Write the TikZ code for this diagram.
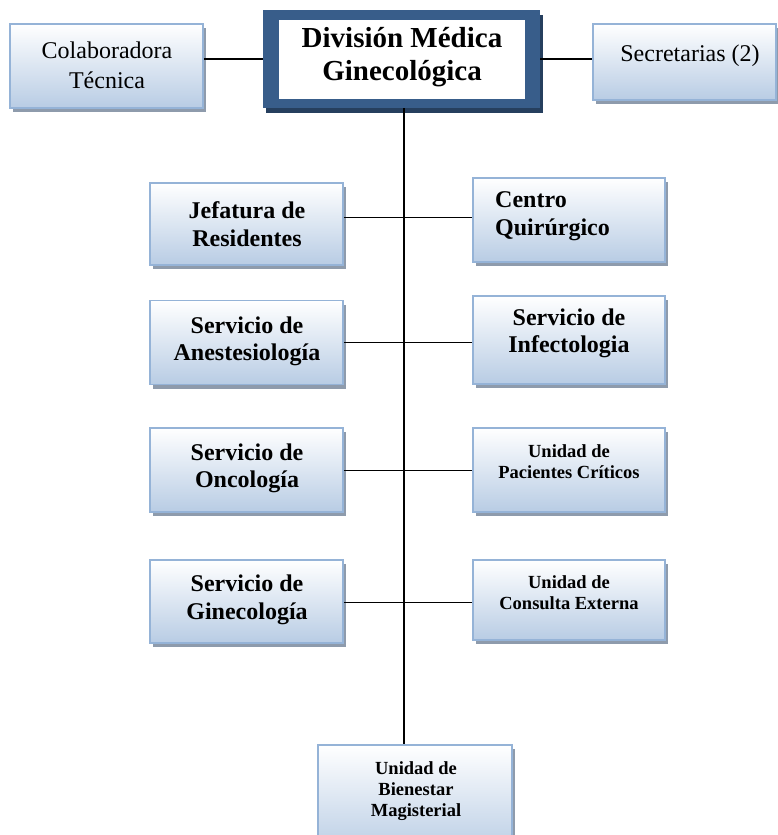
\documentclass[tikz,border=0pt]{standalone}
\usepackage{fontspec}
\setmainfont{Liberation Serif}
\usetikzlibrary{shadows}
\definecolor{boxborder}{HTML}{95B3D7}
\definecolor{boxbottom}{HTML}{B8CCE4}
\definecolor{boxshadow}{HTML}{8E9BAC}
\definecolor{mainblue}{HTML}{385D8A}
\definecolor{mainshadow}{HTML}{263F5E}
\begin{document}
\begin{tikzpicture}[x=1pt,y=-1pt,
  orgbox/.style={draw=boxborder, line width=1.5pt, top color=white, bottom color=boxbottom,
    inner sep=0pt, general shadow={fill=boxshadow, shadow xshift=3pt, shadow yshift=-4pt}},
  mainbox/.style={fill=mainblue, inner sep=0pt, minimum width=277pt, minimum height=98pt,
    general shadow={fill=mainshadow, shadow xshift=3pt, shadow yshift=-5pt}},
  bigtxt/.style={font=\bfseries\fontsize{24}{27.5}\selectfont, align=center, inner sep=0pt},
  smalltxt/.style={font=\bfseries\fontsize{18.5}{21}\selectfont, align=center, inner sep=0pt},
  regtxt/.style={font=\fontsize{24}{30}\selectfont, align=center, inner sep=0pt},
  maintxt/.style={font=\bfseries\fontsize{29}{33}\selectfont, align=center, inner sep=0pt},
  topline/.style={line width=2pt},
  spine/.style={line width=2.8pt},
  rowline/.style={line width=1pt}]
\useasboundingbox (0,0) rectangle (778,835);
\clip (0,0) rectangle (778,835);

% top level
\node[orgbox, minimum width=193pt, minimum height=84pt] (colab) at (106.5,66) {};
\node[regtxt] (colabt) at (107,65) {Colaboradora\\Técnica};
\node[mainbox] (main) at (401.5,59) {};
\fill[white] (279,20) rectangle (525,99);
\node[maintxt] (maint) at (402,57) {División Médica\\Ginecológica};
\node[orgbox, minimum width=183pt, minimum height=76pt] (secr) at (684.5,62) {};
\node[regtxt] (secrt) at (690,56) {Secretarias (2)};

% left column
\node[orgbox, minimum width=193pt, minimum height=82pt] (jef) at (246.5,224) {};
\node[bigtxt] (jeft) at (247,224) {Jefatura de\\Residentes};
\node[orgbox, minimum width=193pt, minimum height=84pt] (anes) at (246.5,342.5) {};
\node[bigtxt] (anest) at (247,341.5) {Servicio de\\Anestesiología};
\node[orgbox, minimum width=193pt, minimum height=84pt] (onco) at (246.5,470) {};
\node[bigtxt] (oncot) at (247,468.5) {Servicio de\\Oncología};
\node[orgbox, minimum width=193pt, minimum height=83pt] (gine) at (246.5,601.5) {};
\node[bigtxt] (ginet) at (247,600) {Servicio de\\Ginecología};

% right column
\node[orgbox, minimum width=192pt, minimum height=84pt] (cent) at (569,220) {};
\node[bigtxt, align=left, anchor=west] (centt) at (495,216) {Centro\\Quirúrgico};
\node[orgbox, minimum width=192pt, minimum height=88pt] (infe) at (569,340) {};
\node[bigtxt] (infet) at (569,333.5) {Servicio de\\Infectologia};
\node[orgbox, minimum width=192pt, minimum height=84pt] (paci) at (569,470) {};
\node[smalltxt] (pacit) at (569,462) {Unidad de\\Pacientes Críticos};
\node[orgbox, minimum width=192pt, minimum height=80pt] (cons) at (569,600) {};
\node[smalltxt] (const) at (569,593) {Unidad de\\Consulta Externa};

% bottom
\node[orgbox, minimum width=194pt, minimum height=110pt] (bien) at (415,800) {};
\node[smalltxt] (bient) at (416,791) {Unidad de\\Bienestar\\Magisterial};

% connectors
\draw[topline] (main.west -| colab.east) -- (main.west);
\draw[topline] (main.east) -- (main.east -| secr.west);
\coordinate (sp) at (404,0);
\draw[spine] (main.south -| sp) -- (bien.north -| sp);
\coordinate (r1) at (404,217);
\coordinate (r2) at (404,342);
\coordinate (r3) at (404,470);
\coordinate (r4) at (404,602);
\draw[rowline] (jef.east |- r1) -- (cent.west |- r1);
\draw[rowline] (anes.east |- r2) -- (infe.west |- r2);
\draw[rowline] (onco.east |- r3) -- (paci.west |- r3);
\draw[rowline] (gine.east |- r4) -- (cons.west |- r4);
\end{tikzpicture}
\end{document}
